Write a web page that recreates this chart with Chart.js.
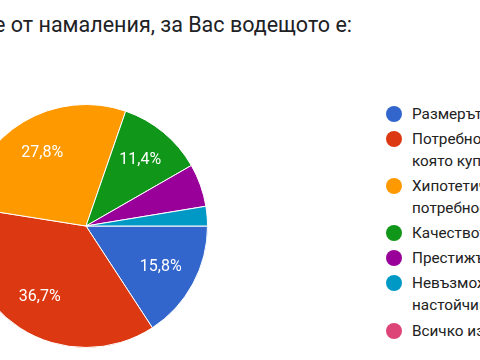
<!DOCTYPE html>
<html>
<head>
<meta charset="utf-8">
<script src="https://cdn.jsdelivr.net/npm/chart.js"></script>
<style>
  body { margin: 0; width: 480px; height: 360px; overflow: hidden; background: #fff; position: relative; font-family: Roboto, sans-serif; }
  #title { position: absolute; right: 128px; top: 13px; font-size: 21.5px; line-height: 24px; color: #202124; white-space: nowrap; }
  #wrap { position: absolute; left: -36px; top: 104px; width: 244px; height: 244px; }
  #legend { position: absolute; left: 386px; top: 102.5px; width: 300px; font-size: 15.3px; line-height: 22px; color: #222; }
  .item { position: relative; padding-left: 26px; margin-bottom: 3.2px; white-space: nowrap; }
  .dot { position: absolute; left: 0; top: 3px; width: 16px; height: 16px; border-radius: 50%; }
</style>
</head>
<body>
<div id="title">При пазаруване от намаления, за Вас водещото е:</div>
<div id="wrap"><canvas id="pie"></canvas></div>
<div id="legend"></div>
<script>
// answers, in the order the legend lists them
const answers = [
  ["Размерът на отстъпката"],
  ["Потребността от стоката,", "която купувате"],
  ["Хипотетичната бъдеща", "потребност от стоката"],
  ["Качеството на стоката"],
  ["Престижът на марката"],
  ["Невъзможността да устоите на", "настойчиви продавачи"],
  ["Всичко изброено"]
];
const shares = [15.8, 36.7, 27.8, 11.4, 5.7, 2.6, 0];
const colors = ["#3366cc", "#dc3912", "#ff9900", "#109618", "#990099", "#0099c6", "#dd4477"];

// percent text inside the bigger slices
const sliceLabels = {
  id: "sliceLabels",
  afterDatasetsDraw(chart) {
    const ctx = chart.ctx;
    const meta = chart.getDatasetMeta(0);
    ctx.save();
    ctx.font = "16px Roboto";
    ctx.fillStyle = "#fff";
    ctx.textAlign = "center";
    ctx.textBaseline = "middle";
    meta.data.forEach((arc, i) => {
      if (shares[i] < 10) return;
      const mid = (arc.startAngle + arc.endAngle) / 2;
      const r = arc.outerRadius * 0.7;
      const txt = shares[i].toFixed(1).replace(".", ",") + "%";
      ctx.fillText(txt, arc.x + Math.cos(mid) * r, arc.y + Math.sin(mid) * r);
    });
    ctx.restore();
  }
};

new Chart(document.getElementById("pie"), {
  type: "pie",
  plugins: [sliceLabels],
  data: {
    labels: answers.map(a => a.join(" ")),
    datasets: [{
      data: shares,
      backgroundColor: colors,
      borderColor: "#fff",
      borderWidth: 1
    }]
  },
  options: {
    responsive: true,
    maintainAspectRatio: false,
    animation: false,
    rotation: 90,
    layout: { padding: 0 },
    plugins: {
      legend: { display: false },
      tooltip: { enabled: false }
    }
  }
});

// legend on the right
const legend = document.getElementById("legend");
answers.forEach((lines, i) => {
  const item = document.createElement("div");
  item.className = "item";
  item.innerHTML = `<span class="dot" style="background:${colors[i]}"></span>` + lines.join("<br>");
  legend.appendChild(item);
});
</script>
</body>
</html>
